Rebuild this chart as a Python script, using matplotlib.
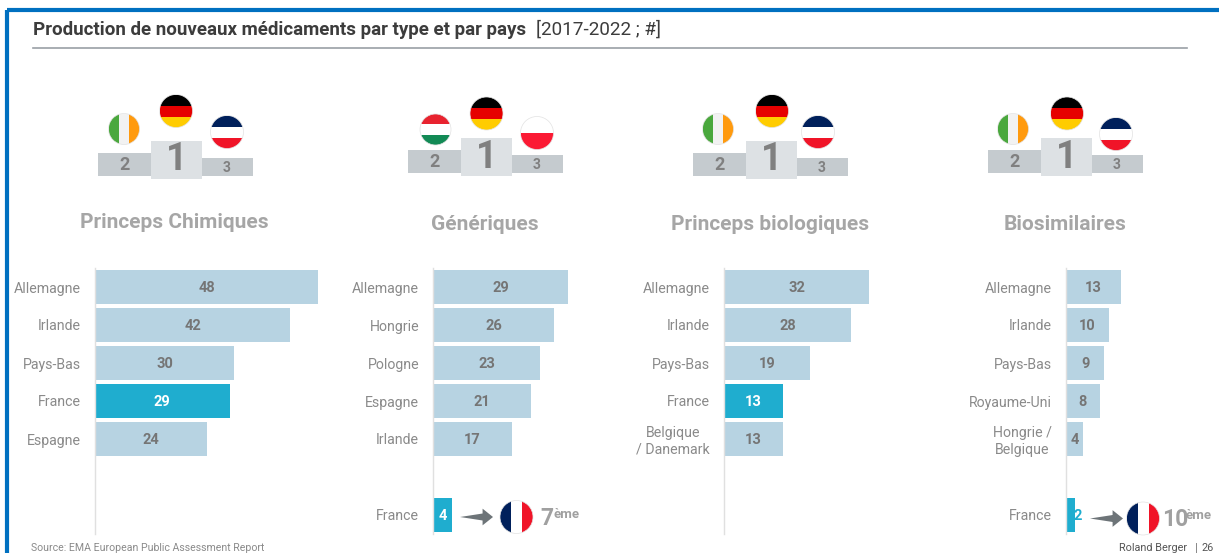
"""Production de nouveaux medicaments par type et par pays, four small bar panels."""

import matplotlib
matplotlib.use("Agg")
import matplotlib.pyplot as plt
from matplotlib.patches import Circle, FancyArrowPatch, Rectangle

plt.rcParams["font.family"] = ["Roboto", "Liberation Sans", "DejaVu Sans"]

W, H = 1219, 553

TITLES = ["Princeps Chimiques", "Génériques", "Princeps biologiques", "Biosimilaires"]

LABELS_CHIM = ["Allemagne", "Irlande", "Pays-Bas", "France", "Espagne"]
VALUES_CHIM = [48, 42, 30, 29, 24]
LABELS_GEN = ["Allemagne", "Hongrie", "Pologne", "Espagne", "Irlande", "France"]
VALUES_GEN = [29, 26, 23, 21, 17, 4]
LABELS_BIO = ["Allemagne", "Irlande", "Pays-Bas", "France", "Belgique\n/ Danemark"]
VALUES_BIO = [32, 28, 19, 13, 13]
LABELS_SIM = ["Allemagne", "Irlande", "Pays-Bas", "Royaume-Uni", "Hongrie /\nBelgique", "France"]
VALUES_SIM = [13, 10, 9, 8, 4, 2]
PODIUMS = [["IE", "DE", "NL"], ["HU", "DE", "PL"], ["IE", "DE", "NL"], ["IE", "DE", "NL"]]

BAR = "#b7d3e2"
FRANCE = "#1fadcf"
VALUE_GREY = "#757575"
LABEL_GREY = "#8a8a8a"
HEAD_GREY = "#a6a6a6"
ARROW_GREY = "#6d7478"

FLAGS = {
    "DE": ["#000000", "#e60000", "#ffcc00"],
    "NL": ["#00205b", "#ffffff", "#f01428"],
    "HU": ["#e8232f", "#ffffff", "#128a55"],
    "PL": ["#ffffff", "#fb1a34"],
    "IE": ["#4aa83d", "#f2f2f2", "#ff9a0e"],
    "FR": ["#00205b", "#ffffff", "#f01428"],
}
VERTICAL = {"IE", "FR"}

# layout of each panel, in pixels
PANELS = [
    dict(labels=LABELS_CHIM, values=VALUES_CHIM, x0=95, scale=4.646, pod_x=98, pod_y=0,
         flag_x=[124, 176, 227], flag_y=[129, 111, 132], title_x=174, title_y=222),
    dict(labels=LABELS_GEN, values=VALUES_GEN, x0=433, scale=4.655, pod_x=408, pod_y=-3,
         flag_x=[435.5, 486.5, 537], flag_y=[129.5, 113.5, 133], title_x=485, title_y=225),
    dict(labels=LABELS_BIO, values=VALUES_BIO, x0=724, scale=4.53, pod_x=693, pod_y=0,
         flag_x=[718, 772, 818], flag_y=[129, 111, 132], title_x=770, title_y=225),
    dict(labels=LABELS_SIM, values=VALUES_SIM, x0=1066, scale=4.26, pod_x=988, pod_y=-3,
         flag_x=[1013, 1067, 1116], flag_y=[129, 113.5, 134], title_x=1065, title_y=225),
]


def draw_flag(ax, code, cx, cy, r):
    colors = FLAGS[code]
    clip = Circle((cx, cy), r, transform=ax.transData, fc="none", ec="none")
    ax.add_patch(clip)
    step = 2 * r / len(colors)
    for i, c in enumerate(colors):
        if code in VERTICAL:
            stripe = Rectangle((cx - r + i * step, cy - r), step, 2 * r, fc=c, ec="none")
        else:
            stripe = Rectangle((cx - r, cy - r + i * step), 2 * r, step, fc=c, ec="none")
        ax.add_patch(stripe)
        stripe.set_clip_path(clip)
    ax.add_patch(Circle((cx, cy), r, fc="none", ec="#e2e2e2", lw=0.5))


def draw_podium(ax, px, dy):
    blocks = [(px, 153, 53, 23, "#c5cbcf", "2", 13, 165),
              (px + 103.5, 158, 51, 18, "#c5cbcf", "3", 10, 168),
              (px + 53, 141, 50.5, 38, "#dde1e4", "1", 27, 160)]
    for x, y, w, h, fc, num, size, ty in blocks:
        ax.add_patch(Rectangle((x, y + dy), w, h, fc=fc, ec="none"))
        ax.text(x + w / 2, ty + dy, num, ha="center", va="center", fontsize=size,
                fontweight="bold", color="#808080")


def draw_rank(ax, arrow_x, flag_x, flag_y, num, num_x, sup_x, base_y):
    # tapered tail drawn head to tip, then the arrow head on top
    ax.add_patch(FancyArrowPatch((arrow_x[1] - 6, flag_y), (arrow_x[0], flag_y),
                                 arrowstyle="wedge,tail_width=6,shrink_factor=0.5",
                                 mutation_scale=1, shrinkA=0, shrinkB=0,
                                 fc=ARROW_GREY, ec="none"))
    ax.add_patch(FancyArrowPatch((arrow_x[1] - 11, flag_y), (arrow_x[1], flag_y),
                                 arrowstyle="simple,head_length=7.5,head_width=12,tail_width=0.5",
                                 mutation_scale=1, shrinkA=0, shrinkB=0,
                                 fc=ARROW_GREY, ec="none"))
    draw_flag(ax, "FR", flag_x, flag_y, 16.5)
    ax.text(num_x, base_y, num, ha="left", va="baseline", fontsize=16.5, fontweight="bold",
            color="#a0a0a0")
    ax.text(sup_x, base_y - 7, "ème", ha="left", va="baseline", fontsize=9.5, fontweight="bold",
            color="#a0a0a0")


fig = plt.figure(figsize=(W / 100, H / 100), dpi=100, facecolor="white")

bg = fig.add_axes([0, 0, 1, 1])
bg.set_xlim(0, W)
bg.set_ylim(H, 0)
bg.axis("off")

# slide frame and heading
bg.add_patch(Rectangle((7, 9.5), W + 20, H + 20, fc="none", ec="#0070c0", lw=3))
bg.text(33, 30, "Production de nouveaux médicaments par type et par pays", ha="left", va="center",
        fontsize=13.5, fontweight="bold", color="#3c3c3c")
bg.text(536, 30, "[2017-2022 ; #]", ha="left", va="center", fontsize=13.6, color="#3c3c3c")
bg.plot([33, 1187], [47.5, 47.5], color="#9aa0a6", lw=1.2)
bg.text(31, 548, "Source: EMA European Public Assessment Report", ha="left", va="center",
        fontsize=7.55, color="#8a8a8a")
bg.text(1119, 548, "Roland Berger", ha="left", va="center", fontsize=7.8, color="#555555")
bg.plot([1196, 1196], [543, 553], color="#888888", lw=0.7)
bg.text(1201, 548, "26", ha="left", va="center", fontsize=7.8, color="#555555")

for title, panel, podium in zip(TITLES, PANELS, PODIUMS):
    draw_podium(bg, panel["pod_x"], panel["pod_y"])
    for code, fx, fy in zip(podium, panel["flag_x"], panel["flag_y"]):
        draw_flag(bg, code, fx, fy, 16.5 if code not in ("IE", "HU") else 15.5)
    bg.text(panel["title_x"], panel["title_y"], title, ha="center", va="center",
            fontsize=15, fontweight="bold", color=HEAD_GREY)

    # one row every 38 px, France alone on row 6 when it is outside the top five
    labels, values = panel["labels"], panel["values"]
    rows = [i if i < 5 else 6 for i in range(len(values))]
    x_span = 230
    ax = fig.add_axes([panel["x0"] / W, 1 - 534 / H, x_span / W, (534 - 268) / H])
    ax.patch.set_alpha(0)
    ax.set_xlim(0, x_span / panel["scale"])
    ax.set_ylim(6.5, -0.5)
    colors = [FRANCE if lab == "France" else BAR for lab in labels]
    ax.barh(rows, values, height=0.88, color=colors)
    for r, v, lab in zip(rows, values, labels):
        if v <= 2:
            ax.text(v + 0.65, r, str(v), ha="center", va="center_baseline", fontsize=10.5,
                    fontweight="bold", color=FRANCE)
        else:
            ax.text(v / 2, r, str(v), ha="center", va="center_baseline", fontsize=10.5,
                    fontweight="bold", color="white" if lab == "France" else VALUE_GREY)
    ax.set_xticks([])
    ax.set_yticks(rows)
    ax.set_yticklabels(labels, fontsize=10.2, color=LABEL_GREY, multialignment="center")
    ax.tick_params(axis="y", length=0, pad=10)
    for side in ["top", "right", "bottom"]:
        ax.spines[side].set_visible(False)
    ax.spines["left"].set_color("#e0e0e0")
    ax.spines["left"].set_linewidth(1.0)

draw_rank(bg, (460, 493), 516.5, 517, "7", 540, 553, 525)
draw_rank(bg, (1090, 1123), 1143, 518.5, "10", 1162, 1186, 526)

fig.savefig("out.png", dpi=100)
